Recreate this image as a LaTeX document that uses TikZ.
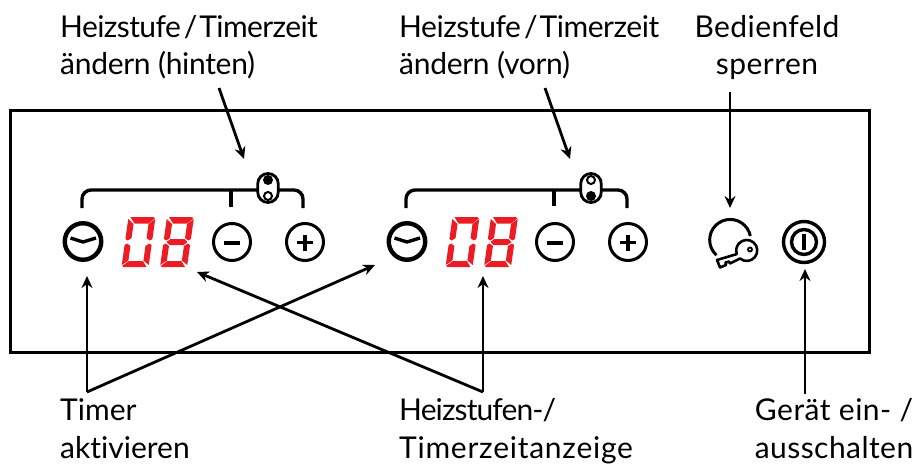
\documentclass[tikz,border=0pt]{standalone}
\usepackage{fontspec}
\setmainfont{Lato}[Ligatures=NoCommon]
\newcommand{\lsp}[2]{{\addfontfeature{LetterSpace=#1}#2}}
\definecolor{segred}{RGB}{237,28,36}
\newcommand{\digitseg}[3]{%
 \begin{scope}[shift={(#1,#2)},xslant=0.14,x=1pt,y=-1pt]
 \fill[segred] (2,-50)--(25,-50)--(26.5,-48.5)--(21,-43.5)--(7,-43.5)--cycle; % top
 \fill[segred] (2,0)--(25,0)--(20.5,-6)--(6.5,-6)--(0.5,-1)--cycle; % bottom
 \fill[segred] (0,-48)--(6,-43)--(6,-29)--(2.5,-26.5)--(0,-28)--cycle; % ul
 \fill[segred] (0,-22)--(2.5,-23.5)--(6,-21)--(6,-6.5)--(0,-2)--cycle; % ll
 \fill[segred] (27,-48)--(27,-28)--(24.5,-26.5)--(21,-29)--(21,-43)--cycle; % ur
 \fill[segred] (27,-22)--(27,-2)--(21,-6.5)--(21,-21)--(24.5,-23.5)--cycle; % lr
 #3
 \end{scope}}
\newcommand{\midseg}{\fill[segred] (6.5,-28)--(20.5,-28)--(24,-25)--(20.5,-22)--(6.5,-22)--(3,-25)--cycle;}
\newcommand{\twodigits}[1]{\digitseg{#1}{267}{}\digitseg{#1+38.5}{267}{\midseg}}
\usetikzlibrary{arrows.meta,shapes.misc}
\tikzset{
 x=1pt,y=-1pt,
 txt/.style={inner sep=0pt,font=\fontsize{30}{37.5}\selectfont,anchor=base west,align=left},
 arr/.style={line width=2.8pt,-{Stealth[length=12pt,width=11pt]}},
 key/.style={circle,draw,line width=3pt,minimum size=37pt,inner sep=0pt,outer sep=0pt},
 timerc/.style={circle,draw,line width=4.4pt,minimum size=36.5pt,inner sep=0pt,outer sep=0pt},
 brk/.style={line width=3.4pt,rounded corners=9pt},
 pill/.style={rounded rectangle,draw,line width=2.8pt,minimum width=29pt,minimum height=20.5pt,inner sep=0pt,outer sep=0pt,rotate=90,fill=white},
}
\begin{document}
\begin{tikzpicture}
\useasboundingbox (0,0) rectangle (917,468);
\node[draw,line width=3pt,minimum width=859pt,minimum height=241pt,inner sep=0pt,outer sep=0pt,anchor=north west] (panel) at (10,111) {};
% group 1
\coordinate (b1l) at (82,208); \coordinate (b1r) at (303,208);
\draw[brk] (b1l) -- (82,190) -- (303,190) -- (b1r);
\draw[line width=3.4pt] (231,190) -- (231,207);
\node[pill] (p1) at (268,188) {};
\fill (268,180) circle (5pt);
\draw[line width=2pt] (268,196) circle (4pt);
\node[timerc] (t1) at (83,241.5) {};
\draw[line width=3.4pt,line join=round] (70.5,238) -- (83,242) -- (96,238);
\twodigits{121.5}
\node[key] (m1) at (232,242) {};
\draw[line width=3.8pt] (224,243) -- (240,243);
\node[key] (pl1) at (305,242) {};
\draw[line width=3.8pt] (297,242.5) -- (313,242.5) (305,234.5) -- (305,250.5);
% group 2
\coordinate (b2l) at (406,208); \coordinate (b2r) at (627,208);
\draw[brk] (b2l) -- (406,190) -- (627,190) -- (b2r);
\draw[line width=3.4pt] (554,190) -- (554,206);
\node[pill] (p2) at (591,188) {};
\draw[line width=2pt] (591,180) circle (4pt);
\fill (591,196) circle (5pt);
\node[timerc] (t2) at (407,241.5) {};
\draw[line width=3.4pt,line join=round] (394.5,238) -- (407,242) -- (420,238);
\twodigits{445.5}
\node[key] (m2) at (555,242) {};
\draw[line width=3.8pt] (547,243) -- (563,243);
\node[key] (pl2) at (628,242) {};
\draw[line width=3.8pt] (620,242.5) -- (636,242.5) (628,234.5) -- (628,250.5);
% lock
\draw[line width=3pt] (750.3,236) arc[start angle=11,end angle=228,radius=20.5pt];
\draw[line width=2.6pt,line join=round,fill=white] (740,258.5) arc[start angle=230,end angle=560,radius=10.5pt]
  -- (717,260) -- (720,267.5) -- (726,265) -- (725.5,262.5) -- (729,261.5) -- (730,263.5) -- cycle;
\draw[line width=1.8pt] (750,249.5) circle (2pt);
% power
\node[circle,draw,line width=3.4pt,minimum size=41pt,inner sep=0pt,outer sep=0pt] (pw) at (804,242) {};
\draw[line width=3.4pt] (804,242) circle (12.5pt);
\fill (802,234) rectangle (806,249.5);
% labels
\node[txt] (l1) at (60,75) {\lsp{-2}{Heizstufe\kern3pt/\kern2ptTimerzeit}\\\lsp{-1}{ändern (hinten)}};
\node[txt] (l2) at (399,75) {\lsp{-1.5}{Heizstufe\kern3pt/\kern2ptTimerzeit}\\\lsp{-1}{ändern (vorn)}};
\node[txt,anchor=base,align=center] (l3) at (767,75) {\lsp{1.4}{Bedienfeld}\\\lsp{1.5}{sperren}};
\node[txt] (l4) at (60,458) {Timer\\aktivieren};
\node[txt] (l5) at (399,458) {\lsp{-3}{Heizstufen-/}\\\lsp{2.5}{Timerzeitanzeige}};
\node[txt,anchor=base,align=center] (l6) at (834,458) {\lsp{1.7}{Gerät ein- /}\\\lsp{1.5}{ausschalten}};
% connectors
\coordinate (a1s) at (219,88); \coordinate (a1e) at (244,159);
\coordinate (a2s) at (545,88); \coordinate (a2e) at (570,159);
\coordinate (a3s) at (730,92); \coordinate (a3e) at (730,208);
\coordinate (j4) at (87,392); \coordinate (a4e) at (87,276); \coordinate (a4f) at (375,265);
\coordinate (j5) at (483,392); \coordinate (a5e) at (483,276); \coordinate (a5f) at (197,272);
\coordinate (a6s) at (805,394); \coordinate (a6e) at (805,269);
\draw[arr] (a1s) -- (a1e);
\draw[arr] (a2s) -- (a2e);
\draw[arr] (a3s) -- (a3e);
\draw[arr] (j4) -- (a4e);
\draw[arr] (j4) -- (a4f);
\draw[arr] (j5) -- (a5e);
\draw[arr] (j5) -- (a5f);
\draw[arr] (a6s) -- (a6e);
\end{tikzpicture}
\end{document}
